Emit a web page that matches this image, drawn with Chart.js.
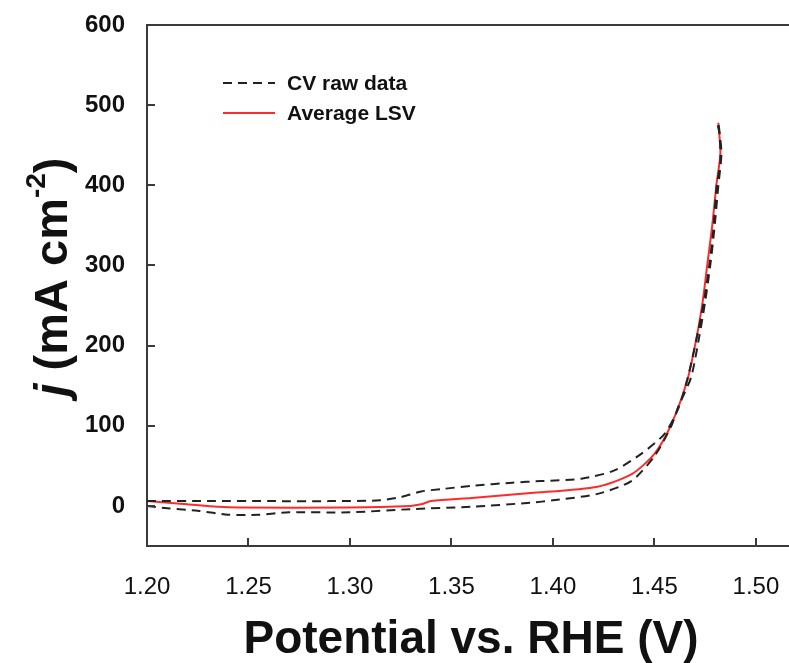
<!DOCTYPE html>
<html>
<head>
<meta charset="utf-8">
<script src="https://cdn.jsdelivr.net/npm/chart.js@4.4.0/dist/chart.umd.min.js"></script>
<style>
  html, body { margin: 0; padding: 0; background: #fff; }
  #wrap { width: 789px; height: 663px; }
</style>
</head>
<body>
<div id="wrap"><canvas id="lsvChart" width="789" height="663"></canvas></div>
<script>
// CV loop (anodic scan then return) and averaged LSV
const cvX = [1.200, 1.230, 1.260, 1.290, 1.315, 1.325, 1.335, 1.345, 1.360, 1.380, 1.394, 1.414, 1.430, 1.4435, 1.455, 1.462, 1.466, 1.4683, 1.4716, 1.4747, 1.4771, 1.479, 1.4806, 1.4825, 1.482, 1.481,
             1.4815, 1.483, 1.4815, 1.4795, 1.4775, 1.475, 1.472, 1.468, 1.462, 1.458, 1.450, 1.4386, 1.422, 1.400, 1.389, 1.360, 1.330, 1.300, 1.270, 1.255, 1.240, 1.225, 1.210, 1.200]
const cvY = [6, 6, 6, 6, 7, 11, 18, 21, 25, 29, 31, 34, 44, 65, 90, 123, 156, 180, 219, 260, 302, 344, 398, 430, 465, 478,
             478, 440, 400, 345, 300, 255, 210, 160, 125, 98, 62, 31, 15, 7, 4, -1, -4, -8, -8, -11, -11, -6, -3, 0]

const lsvX = [1.200, 1.215, 1.235, 1.245, 1.300, 1.330, 1.335, 1.340, 1.360, 1.389, 1.422, 1.439, 1.450, 1.458, 1.466, 1.470, 1.4735, 1.476, 1.4785, 1.4805, 1.4825, 1.4815]
const lsvY = [6, 3, -1, -2, -2, 0, 2, 6, 10, 16, 24, 40, 65, 100, 155, 200, 250, 300, 350, 400, 440, 478]

const xTicks = [1.20, 1.25, 1.30, 1.35, 1.40, 1.45, 1.50]
const yTicks = [0, 100, 200, 300, 400, 500, 600]

const legendItems = ['CV raw data', 'Average LSV']
const xTitle = 'Potential vs. RHE (V)'

const toPts = (xs, ys) => xs.map((x, i) => ({x: x, y: ys[i]}))

const axisColor = '#3a3a3a'
const fontName = '"Liberation Sans", Arial, sans-serif'

// inward ticks, top frame line, axis titles and legend
const decor = {
  id: 'decor',
  afterDraw(chart) {
    const c = chart.ctx
    const a = chart.chartArea
    const xs = chart.scales.x, ys = chart.scales.y
    c.save()
    c.strokeStyle = axisColor
    c.lineWidth = 2
    c.beginPath()
    c.moveTo(a.left, a.top)
    c.lineTo(a.right, a.top)
    xTicks.forEach(v => {
      const px = Math.round(xs.getPixelForValue(v))
      c.moveTo(px, a.bottom)
      c.lineTo(px, a.bottom - 8)
    })
    yTicks.forEach(v => {
      const py = Math.round(ys.getPixelForValue(v))
      c.moveTo(a.left, py)
      c.lineTo(a.left + 8, py)
    })
    c.stroke()

    // legend
    const lx = 223, lx2 = 275, tx = 287
    const rows = [83, 113]
    c.lineWidth = 2
    c.strokeStyle = '#222'
    c.setLineDash([9, 6])
    c.beginPath(); c.moveTo(lx, rows[0]); c.lineTo(lx2, rows[0]); c.stroke()
    c.setLineDash([])
    c.strokeStyle = '#ff2a2a'
    c.beginPath(); c.moveTo(lx, rows[1]); c.lineTo(lx2, rows[1]); c.stroke()
    c.fillStyle = '#111'
    c.font = 'bold 21px ' + fontName
    c.textBaseline = 'middle'
    c.textAlign = 'left'
    legendItems.forEach((t, i) => c.fillText(t, tx, rows[i] + 1))

    // x title
    c.font = 'bold 46px ' + fontName
    c.textAlign = 'center'
    c.textBaseline = 'alphabetic'
    c.fillText(xTitle, 471, 653)

    // y title: j (mA cm-2)
    c.translate(67, 277)
    c.rotate(-Math.PI / 2)
    const parts = [
      {t: 'j', f: 'italic bold 47px ' + fontName, dy: 0},
      {t: ' (mA cm', f: 'bold 47px ' + fontName, dy: 0},
      {t: '-2', f: 'bold 28px ' + fontName, dy: -22},
      {t: ')', f: 'bold 47px ' + fontName, dy: 0}
    ]
    let total = 0
    parts.forEach(p => { c.font = p.f; total += c.measureText(p.t).width })
    let cx = -total / 2
    c.textAlign = 'left'
    parts.forEach(p => {
      c.font = p.f
      c.fillText(p.t, cx, p.dy)
      cx += c.measureText(p.t).width
    })
    c.restore()
  }
}

new Chart(document.getElementById('lsvChart'), {
  type: 'scatter',
  data: {
    datasets: [
      {
        label: legendItems[0],
        data: toPts(cvX, cvY),
        showLine: true,
        borderColor: '#222',
        borderWidth: 2,
        borderDash: [9, 6],
        pointRadius: 0,
        tension: 0.25
      },
      {
        label: legendItems[1],
        data: toPts(lsvX, lsvY),
        showLine: true,
        borderColor: '#ff2a2a',
        borderWidth: 2,
        pointRadius: 0,
        tension: 0.25
      }
    ]
  },
  options: {
    responsive: false,
    animation: false,
    layout: { padding: { top: 25, right: 0, left: 0, bottom: 0 } },
    plugins: { legend: { display: false }, tooltip: { enabled: false } },
    scales: {
      x: {
        type: 'linear',
        min: 1.20,
        max: 1.5163,
        afterBuildTicks: s => { s.ticks = xTicks.map(v => ({value: v})) },
        afterFit: s => { s.height = 117; s.paddingLeft = 0; s.paddingRight = 0 },
        ticks: {
          padding: 19,
          color: '#111',
          font: { family: fontName, size: 24 },
          callback: v => v.toFixed(2)
        },
        grid: { display: false },
        border: { display: true, color: axisColor, width: 2 }
      },
      y: {
        min: -50,
        max: 600,
        afterBuildTicks: s => { s.ticks = yTicks.map(v => ({value: v})) },
        afterFit: s => { s.width = 147; s.paddingTop = 0; s.paddingBottom = 0 },
        ticks: {
          padding: 14,
          color: '#111',
          font: { family: fontName, size: 24, weight: 'bold' }
        },
        grid: { display: false },
        border: { display: true, color: axisColor, width: 2 }
      }
    }
  },
  plugins: [decor]
})
</script>
</body>
</html>
